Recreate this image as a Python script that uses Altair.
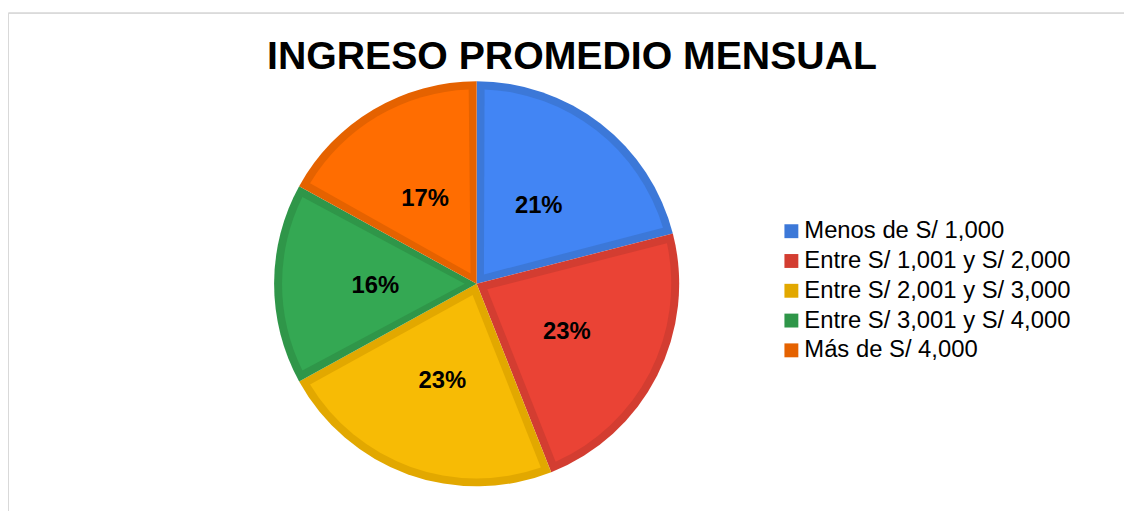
import altair as alt
import pandas as pd

categories = [
    "Menos de S/ 1,000",
    "Entre S/ 1,001 y S/ 2,000",
    "Entre S/ 2,001 y S/ 3,000",
    "Entre S/ 3,001 y S/ 4,000",
    "Más de S/ 4,000",
]
values = [21, 23, 23, 16, 17]
labels = ["21%", "23%", "23%", "16%", "17%"]
fill_colors = ["#4285F4", "#EA4335", "#F7BB05", "#34A853", "#FF6D01"]
border_colors = ["#3C78D8", "#D33D31", "#E2A800", "#2F9649", "#E56200"]
title_text = ["INGRESO PROMEDIO MENSUAL"]

df = pd.DataFrame({
    "cat": categories,
    "value": values,
    "label": labels,
    "idx": list(range(len(categories))),
})
title_df = pd.DataFrame({"t": title_text})

FONT = "Liberation Sans"
PAD_L = 268
PAD_T = 72

base = alt.Chart(df).encode(
    theta=alt.Theta("value:Q", stack=True),
    order=alt.Order("idx:Q"),
)

outer = base.mark_arc(outerRadius=204).encode(
    color=alt.Color(
        "cat:N",
        scale=alt.Scale(domain=categories, range=border_colors),
        sort=categories,
        legend=alt.Legend(
            title=None,
            orient="none",
            legendX=509,
            legendY=139,
            symbolType="square",
            symbolSize=196,
            symbolStrokeWidth=0,
            labelFont=FONT,
            labelFontSize=24,
            labelColor="#000000",
            labelOffset=1,
            rowPadding=6,
            labelLimit=400,
        ),
    )
)

inner = base.mark_arc(outerRadius=196, innerRadius=12, padAngle=0.0816).encode(
    fill=alt.Fill(
        "cat:N",
        scale=alt.Scale(domain=categories, range=fill_colors),
        legend=None,
    )
)

text = base.mark_text(
    radius=102, dy=2, font=FONT, fontSize=24, fontWeight="bold", color="#000000"
).encode(text="label:N")

frame = alt.Chart(df).mark_rect(
    fillOpacity=0, stroke="#d9d9d9", strokeWidth=1
).encode(
    x=alt.value(-PAD_L + 0.5), x2=alt.value(880), y=alt.value(-68.5), y2=alt.value(460)
)

title = alt.Chart(title_df).mark_text(
    font=FONT, fontSize=39.5, fontWeight="bold", color="#000000",
    align="center", baseline="alphabetic",
).encode(
    text="t:N",
    x=alt.value(576 - 8 - PAD_L),
    y=alt.value(68 - 8 - PAD_T),
)

chart = (
    alt.layer(frame, outer, inner, text, title)
    .resolve_scale(color="independent", fill="independent")
    .properties(
        width=408,
        height=408,
        autosize=alt.AutoSizeParams(type="none"),
        padding={"left": PAD_L, "top": PAD_T, "right": 1124 - PAD_L - 408, "bottom": 23},
    )
    .configure_view(stroke=None)
)

chart.save("out.html", embed_options={"renderer": "svg", "actions": False})
